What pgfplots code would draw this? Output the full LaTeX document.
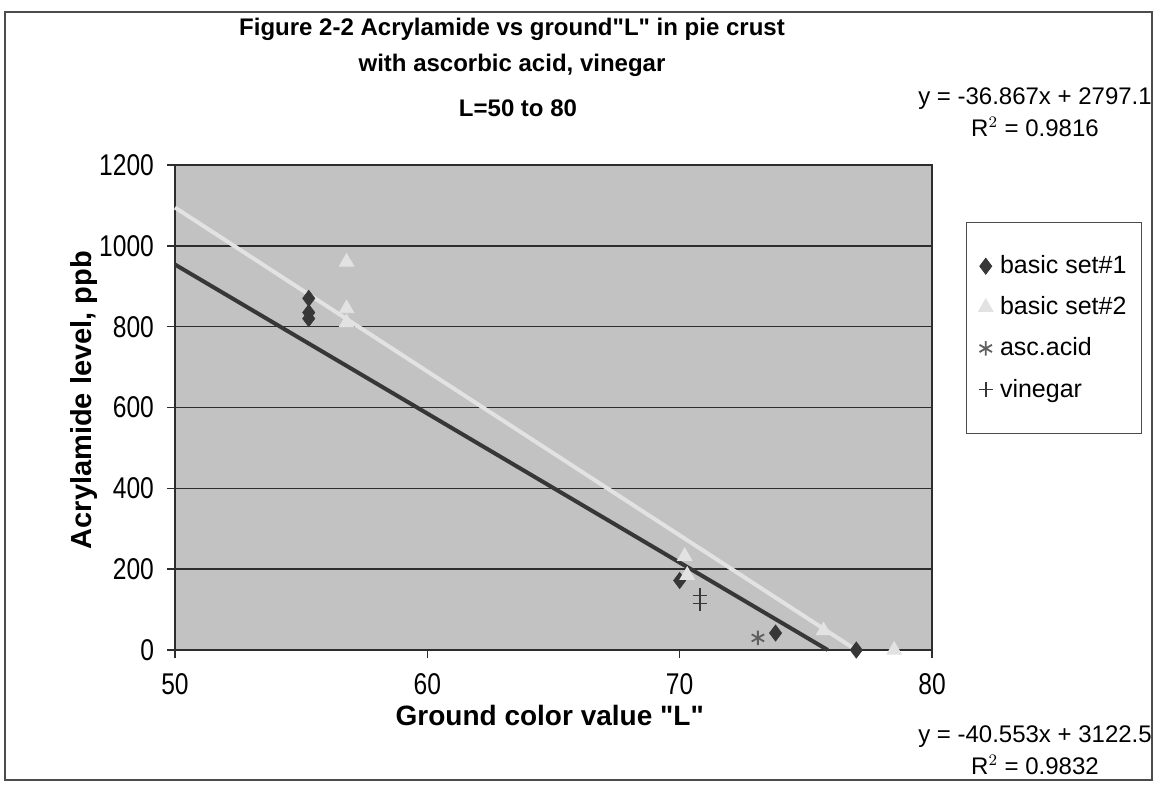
\documentclass[border=0pt]{standalone}
\usepackage{fontspec}
\setmainfont{Liberation Sans}[Ligatures=TeXOff]
\newfontfamily\tickfont{Liberation Sans}[FakeStretch=0.82]
\usepackage{pgfplots}
\pgfplotsset{compat=1.18}

\definecolor{plotbg}{RGB}{194,194,194}
\definecolor{setone}{RGB}{55,55,55}
\definecolor{settwo}{RGB}{226,226,226}
\definecolor{ascgray}{RGB}{95,95,95}
\definecolor{gridcol}{RGB}{45,45,45}

\begin{document}
\begin{tikzpicture}
% outer frame and texts, 1 px = 0.5pt, y downwards
\begin{scope}[x=0.5pt,y=-0.5pt]
  \useasboundingbox (0,0) rectangle (1154,788);
  \draw[gray!60!black, line width=0.8pt] (5,12) rectangle (1152,780);
  \node[font=\fontsize{12}{14}\selectfont\bfseries, align=center] at (512,47)
    {Figure 2-2 Acrylamide vs ground"L" in pie crust\\[4pt]with ascorbic acid, vinegar};
  \node[font=\fontsize{12}{14}\selectfont\bfseries] at (518,108) {L=50 to 80};
  \node[font=\fontsize{12}{14}\selectfont, align=center] at (1035,112)
    {y = -36.867x + 2797.1\\[2pt]R$^2$ = 0.9816};
  \node[font=\fontsize{12}{14}\selectfont, align=center] at (1035,750)
    {y = -40.553x + 3122.5\\[2pt]R$^2$ = 0.9832};
\end{scope}

\begin{axis}[
  at={(87.5pt,-325pt)}, anchor=south west,
  scale only axis,
  width=378.5pt, height=242.5pt,
  xmin=50, xmax=80, ymin=0, ymax=1200,
  xtick={50,60,70,80}, ytick={0,200,400,600,800,1000,1200},
  axis background/.style={fill=plotbg},
  axis line style={gridcol, line width=0.8pt},
  ymajorgrids, grid style={gridcol, line width=0.7pt},
  tick align=outside, major tick length=4pt,
  tick style={gridcol, line width=0.7pt},
  xtick pos=bottom, ytick pos=left,
  /pgf/number format/1000 sep={},
  /pgf/number format/assume math mode=true,
  ticklabel style={font=\tickfont\fontsize{15}{17}\selectfont},
  yticklabel style={xshift=-3pt},
  xticklabel style={yshift=-4pt},
  xlabel={Ground color value "L"},
  ylabel={Acrylamide level, ppb},
  every axis x label/.style={at={(axis description cs:0.495,-0.134)}, anchor=center,
    font=\fontsize{14}{16}\selectfont\bfseries},
  every axis y label/.style={at={(axis description cs:-0.12,0.515)}, anchor=center, rotate=90,
    font=\fontsize{14.5}{16}\selectfont\bfseries},
  legend style={
    at={(1.045,0.882)}, anchor=north west,
    draw=gray!60!black, fill=white,
    font=\fontsize{12.5}{14}\selectfont,
    row sep=7pt, inner ysep=15pt, inner xsep=6pt,
    nodes={inner sep=1.5pt},
    /tikz/every odd column/.append style={column sep=2pt},
  },
  legend cell align=left,
  clip=false,
]
\addplot[only marks, mark=diamond*, mark size=4pt, color=setone] coordinates {
  (55.3,820) (55.3,835) (55.3,870) (70.0,172) (73.8,42) (77.0,0)
};
\addlegendentry{basic set\#1}
\addplot[only marks, mark=triangle*, mark size=4.2pt, color=settwo] coordinates {
  (56.8,960) (56.8,845) (56.8,810) (70.2,232) (70.3,185) (75.7,48) (78.5,0)
};
\addlegendentry{basic set\#2}
\addplot[only marks, mark=asterisk, mark size=3.6pt, color=ascgray, line width=0.9pt] coordinates {
  (73.1,30)
};
\addlegendentry{asc.acid}
\addplot[only marks, mark=+, mark size=3.6pt, color=setone, line width=0.9pt] coordinates {
  (70.8,135) (70.8,115)
};
\addlegendentry{vinegar}
% linear trendlines (endpoints from the fitted equations)
\addplot[forget plot, no marks, color=settwo, line width=2pt] coordinates {
  (50,1094.85) (77.0,0)
};
\addplot[forget plot, no marks, color=setone, line width=2pt] coordinates {
  (50,953.75) (75.87,0)
};
\end{axis}
\end{tikzpicture}
\end{document}
